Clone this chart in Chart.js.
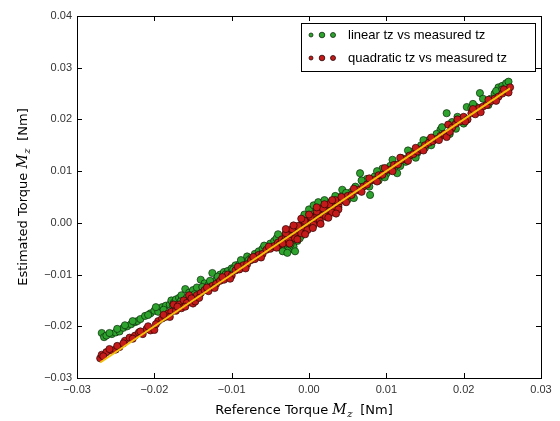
<!DOCTYPE html>
<html>
<head>
<meta charset="utf-8">
<script src="https://cdn.jsdelivr.net/npm/chart.js@4"></script>
<style>
  html, body { margin: 0; padding: 0; background: #fff; }
  #wrap { width: 560px; height: 421px; }
</style>
</head>
<body>
<div id="wrap"><canvas id="chart" width="560" height="421"></canvas></div>
<script>
// linear tz vs measured tz
var linearX = [-0.0268,-0.0265,-0.0262,-0.0255,-0.0250,-0.0245,-0.0240,-0.0235,-0.0230,-0.0225,-0.0222,-0.0218,-0.0212,-0.0205,-0.0200,-0.0195,-0.0190,-0.0185,-0.0180,-0.0178,-0.0175,-0.0172,-0.0168,-0.0165,-0.0160,-0.0155,-0.0150,-0.0145,-0.0140,-0.0135,-0.0130,-0.0125,-0.0120,-0.0115,-0.0110,-0.0105,-0.0100,-0.0095,-0.0090,-0.0085,-0.0080,-0.0075,-0.0070,-0.0065,-0.0060,-0.0055,-0.0050,
  -0.0045,-0.0040,-0.0035,-0.0032,-0.0030,-0.0028,-0.0025,-0.0022,-0.0020,-0.0018,-0.0015,-0.0012,-0.0010,-0.0008,-0.0005,-0.0003,0.0000,0.0002,0.0005,0.0008,0.0010,0.0012,0.0015,0.0018,0.0020,0.0023,0.0025,0.0028,0.0030,0.0035,0.0040,
  0.0043,0.0050,0.0055,0.0060,0.0066,0.0070,0.0075,0.0079,0.0085,0.0090,0.0095,0.0100,0.0105,0.0110,0.0114,0.0120,0.0125,0.0130,0.0135,0.0140,0.0145,0.0150,0.0155,0.0160,0.0170,0.0175,0.0178,0.0185,0.0190,0.0195,0.0204,0.0210,0.0215,0.0221,0.0230,0.0235,0.0240,0.0245,0.0250,0.0255,0.0258,
  -0.0258,-0.0248,-0.0238,-0.0228,-0.0208,-0.0198,-0.0188,-0.0176,-0.0166,-0.0158,-0.0148,-0.0138,-0.0128,-0.0118,-0.0108,-0.0098,-0.0088,-0.0078,-0.0068,-0.0058,
  -0.0042,-0.0036,-0.0030,-0.0026,-0.0020,-0.0016,-0.0012,-0.0008,-0.0004,0.0004,0.0010,0.0016,0.0022,0.0028,0.0034,0.0038,
  -0.0034,-0.0028,-0.0024,-0.0018,-0.0006,0.0000,0.0006,0.0012,0.0020,-0.0040,
  0.0048,0.0058,0.0068,0.0078,0.0088,0.0098,0.0108,0.0118,0.0128,0.0138,0.0148,0.0158,0.0165,0.0172,0.0182,0.0192,0.0200,0.0212,0.0225,0.0232,0.0242,0.0250];
var linearY = [-0.0213,-0.0221,-0.0218,-0.0215,-0.0212,-0.0210,-0.0203,-0.0200,-0.0196,-0.0192,-0.0190,-0.0186,-0.0180,-0.0175,-0.0170,-0.0172,-0.0163,-0.0160,-0.0158,-0.0150,-0.0155,-0.0148,-0.0145,-0.0140,-0.0128,-0.0135,-0.0130,-0.0125,-0.0110,-0.0117,-0.0120,-0.0097,-0.0110,-0.0100,-0.0095,-0.0093,-0.0088,-0.0082,-0.0080,-0.0075,-0.0065,-0.0068,-0.0060,-0.0055,-0.0050,-0.0048,-0.0040,
  -0.0035,-0.0045,-0.0050,-0.0040,-0.0048,-0.0030,-0.0045,-0.0050,-0.0038,-0.0028,-0.0035,-0.0020,-0.0025,-0.0010,-0.0015,0.0005,0.0002,0.0015,0.0010,0.0022,0.0018,0.0028,0.0025,0.0032,0.0030,0.0035,0.0032,0.0040,0.0038,0.0042,0.0050,
  0.0064,0.0045,0.0060,0.0070,0.0096,0.0078,0.0085,0.0054,0.0090,0.0082,0.0105,0.0095,0.0110,0.0102,0.0096,0.0125,0.0118,0.0132,0.0138,0.0135,0.0150,0.0145,0.0160,0.0163,0.0180,0.0170,0.0212,0.0195,0.0182,0.0200,0.0224,0.0222,0.0225,0.0251,0.0235,0.0240,0.0250,0.0262,0.0265,0.0270,0.0273,
  -0.0213,-0.0205,-0.0198,-0.0190,-0.0178,-0.0163,-0.0168,-0.0160,-0.0152,-0.0145,-0.0138,-0.0124,-0.0112,-0.0104,-0.0100,-0.0090,-0.0072,-0.0072,-0.0065,-0.0044,
  -0.0030,-0.0046,-0.0022,-0.0052,-0.0046,-0.0014,-0.0030,0.0004,-0.0008,0.0024,0.0006,0.0036,0.0014,0.0030,0.0052,0.0030,
  -0.0055,-0.0058,-0.0042,-0.0055,0.0016,0.0026,0.0034,0.0040,0.0044,-0.0022,
  0.0058,0.0048,0.0082,0.0070,0.0100,0.0088,0.0122,0.0110,0.0140,0.0126,0.0160,0.0150,0.0172,0.0185,0.0172,0.0205,0.0192,0.0230,0.0240,0.0228,0.0255,0.0258];

// quadratic tz vs measured tz
var quadX = [-0.0270,-0.0268,-0.0262,-0.0255,-0.0250,-0.0245,-0.0238,-0.0232,-0.0225,-0.0220,-0.0215,-0.0210,-0.0205,-0.0200,-0.0195,-0.0190,-0.0186,-0.0182,-0.0178,-0.0175,-0.0172,-0.0168,-0.0165,-0.0162,-0.0158,-0.0155,-0.0150,-0.0147,-0.0145,-0.0140,-0.0135,-0.0130,-0.0125,-0.0120,-0.0115,-0.0110,-0.0105,-0.0100,-0.0095,-0.0090,-0.0085,-0.0080,-0.0075,-0.0070,-0.0065,-0.0060,-0.0055,-0.0050,-0.0045,-0.0040,
  -0.0038,-0.0035,-0.0032,-0.0030,-0.0028,-0.0025,-0.0022,-0.0020,-0.0018,-0.0015,-0.0012,-0.0010,-0.0008,-0.0005,-0.0002,0.0000,0.0003,0.0005,0.0008,0.0010,0.0013,0.0015,0.0018,0.0020,0.0023,0.0025,0.0028,0.0030,0.0033,0.0035,0.0038,0.0040,
  0.0045,0.0050,0.0055,0.0060,0.0065,0.0070,0.0075,0.0080,0.0085,0.0090,0.0095,0.0100,0.0105,0.0110,0.0115,0.0120,0.0125,0.0130,0.0135,0.0140,0.0145,0.0150,0.0155,0.0160,0.0165,0.0170,0.0175,0.0178,0.0180,0.0185,0.0190,0.0195,0.0200,0.0205,0.0210,0.0215,0.0220,0.0225,0.0230,0.0235,0.0240,0.0245,0.0250,0.0255,0.0260,
  -0.0266,-0.0258,-0.0248,-0.0240,-0.0228,-0.0218,-0.0208,-0.0198,-0.0188,-0.0180,-0.0170,-0.0160,-0.0152,-0.0142,-0.0132,-0.0122,-0.0112,-0.0102,-0.0092,-0.0082,-0.0072,-0.0062,-0.0052,-0.0042,
  -0.0034,-0.0030,-0.0026,-0.0022,-0.0018,-0.0014,-0.0010,-0.0006,-0.0002,0.0002,0.0006,0.0010,0.0014,0.0018,0.0022,0.0026,0.0030,0.0034,0.0038,0.0042,
  -0.0030,-0.0025,-0.0020,-0.0015,-0.0010,-0.0005,0.0000,0.0005,0.0010,0.0015,0.0020,0.0025,0.0030,0.0035,
  0.0048,0.0058,0.0068,0.0078,0.0088,0.0098,0.0108,0.0118,0.0128,0.0138,0.0148,0.0158,0.0168,0.0182,0.0192,0.0202,0.0212,0.0222,0.0232,0.0242,0.0252,0.0258];
var quadY = [-0.0262,-0.0255,-0.0250,-0.0247,-0.0245,-0.0240,-0.0228,-0.0222,-0.0218,-0.0212,-0.0215,-0.0205,-0.0208,-0.0207,-0.0190,-0.0185,-0.0182,-0.0175,-0.0172,-0.0158,-0.0170,-0.0158,-0.0165,-0.0150,-0.0155,-0.0140,-0.0156,-0.0152,-0.0140,-0.0136,-0.0130,-0.0132,-0.0122,-0.0118,-0.0112,-0.0110,-0.0100,-0.0102,-0.0092,-0.0090,-0.0082,-0.0080,-0.0072,-0.0070,-0.0062,-0.0060,-0.0052,-0.0050,-0.0045,-0.0038,
  -0.0042,-0.0032,-0.0036,-0.0026,-0.0032,-0.0022,-0.0028,-0.0015,-0.0022,-0.0012,-0.0016,-0.0005,-0.0010,0.0000,-0.0004,0.0005,0.0000,0.0010,0.0005,0.0015,0.0010,0.0020,0.0015,0.0025,0.0020,0.0030,0.0024,0.0034,0.0030,0.0038,0.0034,0.0042,
  0.0045,0.0052,0.0054,0.0062,0.0064,0.0070,0.0074,0.0082,0.0083,0.0092,0.0093,0.0102,0.0103,0.0112,0.0113,0.0122,0.0123,0.0130,0.0133,0.0138,0.0142,0.0150,0.0155,0.0158,0.0162,0.0168,0.0172,0.0166,0.0190,0.0184,0.0192,0.0196,0.0205,0.0200,0.0212,0.0210,0.0222,0.0225,0.0228,0.0235,0.0240,0.0244,0.0250,0.0255,0.0262,
  -0.0258,-0.0244,-0.0238,-0.0233,-0.0224,-0.0210,-0.0200,-0.0196,-0.0178,-0.0182,-0.0162,-0.0162,-0.0146,-0.0145,-0.0125,-0.0126,-0.0105,-0.0108,-0.0085,-0.0088,-0.0066,-0.0067,-0.0046,-0.0048,
  -0.0040,-0.0020,-0.0034,-0.0012,-0.0030,-0.0006,-0.0020,0.0004,-0.0014,0.0012,-0.0004,0.0022,0.0004,0.0028,0.0012,0.0036,0.0020,0.0044,0.0026,0.0050,
  -0.0012,-0.0040,-0.0005,-0.0032,0.0008,-0.0022,0.0016,-0.0010,0.0030,-0.0002,0.0036,0.0010,0.0044,0.0018,
  0.0040,0.0066,0.0060,0.0086,0.0080,0.0106,0.0100,0.0126,0.0120,0.0145,0.0140,0.0165,0.0160,0.0176,0.0200,0.0196,0.0220,0.0214,0.0238,0.0236,0.0258,0.0252];

// reference line, ends of the measured range
var lineX = [-0.027, 0.026];

// axis ticks
var xTicks = [-0.03, -0.02, -0.01, 0.00, 0.01, 0.02, 0.03];
var yTicks = [-0.03, -0.02, -0.01, 0.00, 0.01, 0.02, 0.03, 0.04];

var greenFill = '#2ea32e', greenEdge = '#0b2a0b';
var redFill = '#c41a1a', redEdge = '#2a0505';

function pts(xs, ys) {
    return xs.map(function (x, i) { return { x: x, y: ys[i] }; });
}

function fmt(v) {
    return v.toFixed(2).replace('-', '\u2212');
}

// inward ticks on all four sides plus the box
var frame = {
    id: 'frame',
    afterDatasetsDraw: function (chart) {
        var ctx = chart.ctx, a = chart.chartArea;
        var xs = chart.scales.x, ys = chart.scales.y;
        ctx.save();
        ctx.strokeStyle = '#000';
        ctx.lineWidth = 1;
        ctx.beginPath();
        xTicks.forEach(function (t) {
            var px = Math.round(xs.getPixelForValue(t)) + 0.5;
            ctx.moveTo(px, a.bottom); ctx.lineTo(px, a.bottom - 5);
            ctx.moveTo(px, a.top); ctx.lineTo(px, a.top + 5);
        });
        yTicks.forEach(function (t) {
            var py = Math.round(ys.getPixelForValue(t)) + 0.5;
            ctx.moveTo(a.left, py); ctx.lineTo(a.left + 5, py);
            ctx.moveTo(a.right, py); ctx.lineTo(a.right - 5, py);
        });
        ctx.stroke();
        ctx.strokeRect(Math.round(a.left) + 0.5, Math.round(a.top) + 0.5,
            Math.round(a.right - a.left), Math.round(a.bottom - a.top));
        ctx.restore();
    }
};

// legend box with three markers per entry
var legendBox = {
    id: 'legendBox',
    afterDraw: function (chart) {
        var ctx = chart.ctx, a = chart.chartArea;
        var bx = a.right - 240, by = a.top + 7, bw = 234, bh = 48;
        ctx.save();
        ctx.fillStyle = '#fff';
        ctx.fillRect(bx, by, bw, bh);
        ctx.strokeStyle = '#000';
        ctx.lineWidth = 1;
        ctx.strokeRect(Math.round(bx) + 0.5, Math.round(by) + 0.5, bw, bh);
        var entries = [
            { label: 'linear tz vs measured tz', fill: greenFill, edge: greenEdge, y: by + 12 },
            { label: 'quadratic tz vs measured tz', fill: redFill, edge: redEdge, y: by + 35 }
        ];
        var sizes = [2.0, 2.8, 2.5];
        entries.forEach(function (e) {
            sizes.forEach(function (r, i) {
                ctx.beginPath();
                ctx.arc(bx + 10 + i * 11, e.y, r, 0, Math.PI * 2);
                ctx.fillStyle = e.fill;
                ctx.fill();
                ctx.strokeStyle = e.edge;
                ctx.lineWidth = 0.8;
                ctx.stroke();
            });
            ctx.fillStyle = '#000';
            ctx.font = '13px "Liberation Sans", Arial, sans-serif';
            ctx.textBaseline = 'middle';
            ctx.textAlign = 'left';
            ctx.fillText(e.label, bx + 47, e.y);
        });
        ctx.restore();
    }
};

// axis titles with the math-style M_z
function drawTitle(ctx, x, y, pre) {
    var sans = '13px "DejaVu Sans", sans-serif';
    var ital = 'italic 14px "DejaVu Serif", serif';
    var sub = 'italic 10px "DejaVu Serif", serif';
    var post = '  [Nm]';
    ctx.font = sans; var w1 = ctx.measureText(pre).width;
    ctx.font = ital; var w2 = ctx.measureText('M').width;
    ctx.font = sub; var w3 = ctx.measureText('z').width;
    ctx.font = sans; var w4 = ctx.measureText(post).width;
    var start = x - (w1 + w2 + w3 + w4) / 2;
    ctx.textBaseline = 'alphabetic';
    ctx.textAlign = 'left';
    ctx.fillStyle = '#000';
    ctx.font = sans; ctx.fillText(pre, start, y);
    ctx.font = ital; ctx.fillText('M', start + w1, y);
    ctx.font = sub; ctx.fillText('z', start + w1 + w2 + 0.5, y + 3);
    ctx.font = sans; ctx.fillText(post, start + w1 + w2 + w3, y);
}

var titles = {
    id: 'titles',
    afterDraw: function (chart) {
        var ctx = chart.ctx, a = chart.chartArea;
        ctx.save();
        drawTitle(ctx, (a.left + a.right) / 2 - 5, 414, 'Reference Torque ');
        ctx.translate(27, (a.top + a.bottom) / 2);
        ctx.rotate(-Math.PI / 2);
        drawTitle(ctx, 0, 0, 'Estimated Torque ');
        ctx.restore();
    }
};

var chart = new Chart(document.getElementById('chart'), {
    type: 'scatter',
    data: {
        datasets: [
            {
                type: 'line',
                label: 'y = x',
                data: pts(lineX, lineX),
                borderColor: '#f4c20d',
                borderWidth: 2,
                pointRadius: 0,
                fill: false,
                order: 0
            },
            {
                label: 'quadratic tz vs measured tz',
                data: pts(quadX, quadY),
                backgroundColor: redFill,
                borderColor: redEdge,
                borderWidth: 0.7,
                pointRadius: 3.6,
                order: 1
            },
            {
                label: 'linear tz vs measured tz',
                data: pts(linearX, linearY),
                backgroundColor: greenFill,
                borderColor: greenEdge,
                borderWidth: 0.7,
                pointRadius: 3.6,
                order: 2
            }
        ]
    },
    options: {
        responsive: false,
        animation: false,
        layout: { padding: { top: 16, right: 19, left: 0, bottom: 0 } },
        plugins: {
            legend: { display: false },
            tooltip: { enabled: false }
        },
        scales: {
            x: {
                type: 'linear',
                min: -0.03,
                max: 0.03,
                afterBuildTicks: function (s) { s.ticks = xTicks.map(function (v) { return { value: v }; }); },
                afterFit: function (s) { s.height = 43; },
                grid: { display: false, drawTicks: false },
                border: { display: false },
                ticks: {
                    padding: 5,
                    color: '#333',
                    font: { family: '"Liberation Sans", Arial, sans-serif', size: 11 },
                    maxRotation: 0,
                    callback: function (v) { return fmt(v); }
                }
            },
            y: {
                type: 'linear',
                min: -0.03,
                max: 0.04,
                afterBuildTicks: function (s) { s.ticks = yTicks.map(function (v) { return { value: v }; }); },
                afterFit: function (s) { s.width = 77; },
                grid: { display: false, drawTicks: false },
                border: { display: false },
                ticks: {
                    padding: 5,
                    color: '#333',
                    font: { family: '"Liberation Sans", Arial, sans-serif', size: 11 },
                    callback: function (v) { return fmt(v); }
                }
            }
        }
    },
    plugins: [frame, legendBox, titles]
});
</script>
</body>
</html>
